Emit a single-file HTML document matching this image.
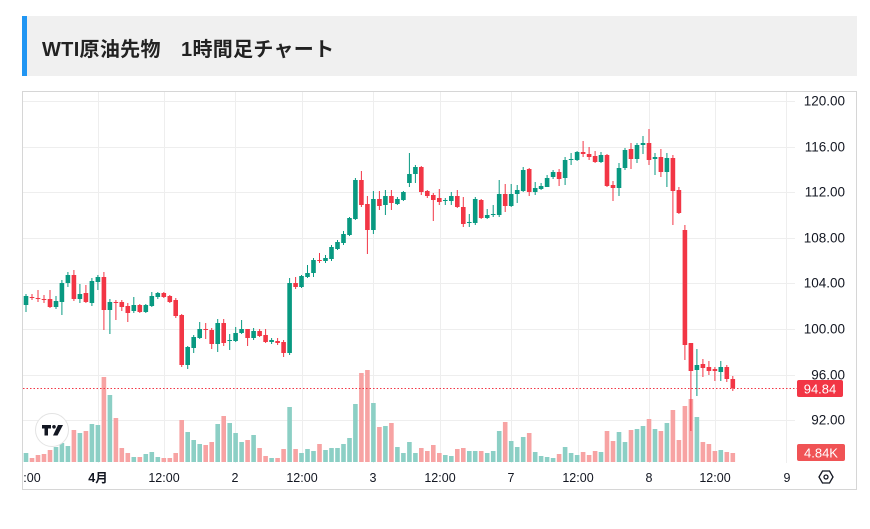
<!DOCTYPE html>
<html><head><meta charset="utf-8">
<style>
html,body{margin:0;padding:0;background:#fff;width:870px;height:529px;overflow:hidden;font-family:"Liberation Sans","Noto Sans CJK JP",sans-serif}
#hdr{position:absolute;left:22px;top:16px;width:835px;height:60px;background:#f0f0f0}
#bar{position:absolute;left:0;top:0;width:5px;height:60px;background:#2196f3}
#ttl{position:absolute;left:20px;top:17px;font-size:20px;font-weight:bold;color:#222;letter-spacing:0.3px;white-space:pre}
svg{position:absolute;left:0;top:0}
</style></head><body>
<div id="hdr"><div id="bar"></div><div id="ttl">WTI原油先物　1時間足チャート</div></div>
<svg id="s" width="870" height="529" xmlns="http://www.w3.org/2000/svg"></svg>
<script>
var C=[
['g',296,305,294,312,453],['r',297,298,294,300,458],['r',298,299,290,302,455],['r',299,300,295,303,454],['r',299,307,290,308,450],['g',301,307,296,309,447],
['g',283,302,280,315,443],['g',275,283,272,287,446],['r',275,299,270,301,430],['g',294,299,284,303,433],['r',293,302,285,303,431],['g',281,303,278,306,424],
['g',277,282,275,290,425],['r',277,310,272,330,377],['g',302,310,299,334,395],['r',302,303,300,320,418],['r',302,307,300,311,448],['r',306,313,303,322,453],
['g',305,311,297,313,457],['r',305,312,304,313,457],['g',305,312,304,313,454],['g',296,306,292,307,452],['g',293,297,292,299,457],['r',293,297,292,298,458],
['r',296,302,295,303,458],['r',300,316,298,318,453],['r',315,365,314,367,420],['g',347,365,346,369,432],['g',337,348,335,353,440],['g',329,338,322,339,444],
['r',329,330,323,339,445],['r',330,344,328,349,442],['g',323,344,319,352,424],['r',323,343,319,346,416],['g',340,341,334,350,423],['g',333,341,327,342,433],
['g',329,333,320,334,442],['r',329,338,329,346,440],['g',331,338,328,340,435],['r',331,336,329,337,448],['r',335,342,329,343,456],['g',340,342,338,344,458],
['r',341,343,338,345,458],['r',342,353,340,357,449],['g',283,353,278,355,407],['r',283,287,277,289,449],['g',276,287,275,288,453],['g',273,277,265,278,449],
['g',260,273,258,277,451],['r',260,261,253,263,444],['g',258,261,255,263,450],['g',247,259,245,261,448],['g',242,249,240,250,448],['g',234,243,231,245,444],
['g',218,235,217,236,438],['g',180,219,178,220,404],['r',180,205,171,207,373],['r',204,230,196,254,370],['g',199,230,191,234,403],['r',199,206,191,210,427],
['g',196,205,190,215,426],['r',196,203,190,210,423],['g',199,204,197,205,447],['g',192,200,191,201,453],['g',174,183,153,187,442],['g',167,174,165,183,453],
['r',167,192,166,195,448],['r',191,196,190,198,451],['r',195,200,193,221,445],['r',198,202,189,205,453],['g',200,201,198,205,455],['g',196,201,192,205,456],
['r',196,207,190,208,449],['r',207,224,197,227,448],['g',222,223,214,227,451],['g',199,223,197,225,451],['r',200,218,199,219,451],['g',215,218,209,219,453],
['g',214,215,205,217,451],['g',194,215,180,217,431],['r',194,206,184,212,422],['g',194,206,184,207,441],['g',190,194,185,203,447],['g',170,191,167,192,437],
['r',169,192,168,196,433],['g',188,192,182,195,452],['g',186,189,183,190,456],['g',178,187,175,187,457],['g',172,177,170,179,458],['r',172,179,169,186,454],
['g',160,178,157,185,447],['g',159,160,153,165,453],['g',152,160,151,161,455],['r',152,154,141,157,452],['r',154,157,147,160,455],['r',156,162,151,163,451],
['g',155,162,152,163,452],['r',155,186,154,187,431],['r',185,188,181,201,441],['g',168,188,163,196,432],['g',150,168,148,170,442],['r',149,159,143,169,430],
['g',145,159,143,163,429],['g',143,145,136,154,426],['r',143,160,129,165,419],['g',157,159,153,175,429],['r',157,172,149,177,431],['g',158,172,153,187,423],
['r',158,191,155,225,410],['r',190,213,187,214,440],['r',230,345,225,360,406],['r',343,371,343,431,399],['g',365,370,349,396,417],['r',364,368,359,377,442],
['r',367,371,361,375,444],['r',369,371,367,381,451],['g',367,372,361,381,450],['r',367,379,365,382,452],['r',379,388,376,391,453]
];
var s=document.getElementById('s'),h='';
function T(x,y,t,a){h+='<text x="'+x+'" y="'+y+'" '+(a||'')+'>'+t+'</text>';}
h+='<rect x="22.5" y="91.5" width="834" height="398" fill="#fff" stroke="#d6d6d6"/>';
var py=[101,147,192,238,283,329,375,420];
py.forEach(function(y){h+='<line x1="23" x2="795" y1="'+(y+.5)+'" y2="'+(y+.5)+'" stroke="#eeeeee"/>';});
[98,164,235,302,373,440,511,578,649,715,786].forEach(function(x){h+='<line x1="'+(x+.5)+'" x2="'+(x+.5)+'" y1="92" y2="463" stroke="#eeeeee"/>';});
C.forEach(function(c,i){var x=26+i*5.99;h+='<rect x="'+(x-2.3).toFixed(1)+'" y="'+c[5]+'" width="4.6" height="'+(462-c[5])+'" fill="'+(c[0]=='g'?'#8ccfc5':'#f7a3a3')+'"/>';});
C.forEach(function(c,i){var x=26+i*5.99,col=c[0]=='g'?'#089981':'#f23645';
h+='<line x1="'+x.toFixed(1)+'" x2="'+x.toFixed(1)+'" y1="'+c[3]+'" y2="'+c[4]+'" stroke="'+col+'" stroke-width="1"/>';
h+='<rect x="'+(x-2.3).toFixed(1)+'" y="'+c[1]+'" width="4.6" height="'+Math.max(1,c[2]-c[1])+'" fill="'+col+'"/>';});
h+='<line x1="23" x2="797" y1="388.5" y2="388.5" stroke="#f23645" stroke-dasharray="1.5,2"/>';
var pl=['120.00','116.00','112.00','108.00','104.00','100.00','96.00','92.00'];
py.forEach(function(y,i){T(845,y+4.5,pl[i],'font-size="13.5" fill="#131722" text-anchor="end"');});
h+='<rect x="797" y="380" width="46" height="17" rx="2" fill="#f23645"/>';
T(820,393.5,'94.84','font-size="13" fill="#fff" text-anchor="middle"');
h+='<rect x="797" y="444" width="48" height="17" rx="2" fill="#f05355"/>';
T(821,457.5,'4.84K','font-size="13" fill="#fff" text-anchor="middle"');
var xl=[[32,':00'],[98,'4月'],[164,'12:00'],[235,'2'],[302,'12:00'],[373,'3'],[440,'12:00'],[511,'7'],[578,'12:00'],[649,'8'],[715,'12:00'],[787,'9']];
xl.forEach(function(a){T(a[0],482,a[1],'font-size="12.5" fill="#131722" text-anchor="middle"'+(a[1]=='4月'?' font-weight="bold"':''));});
h+='<polygon points="819,477 822.5,471 829.5,471 833,477 829.5,483 822.5,483" fill="none" stroke="#131722" stroke-width="1.3"/><circle cx="826" cy="477" r="2" fill="none" stroke="#131722" stroke-width="1.3"/>';
h+='<circle cx="52" cy="430" r="16.5" fill="#fff" stroke="#e3e3e3"/>';
h+='<path d="M42 425h9v3.5h-3v7h-3.5v-7H42z" fill="#131722"/><circle cx="54" cy="426.8" r="1.8" fill="#131722"/><path d="M58 425h5l-5.5 10.5h-4.5z" fill="#131722"/>';
s.innerHTML=h;
</script>
</body></html>
